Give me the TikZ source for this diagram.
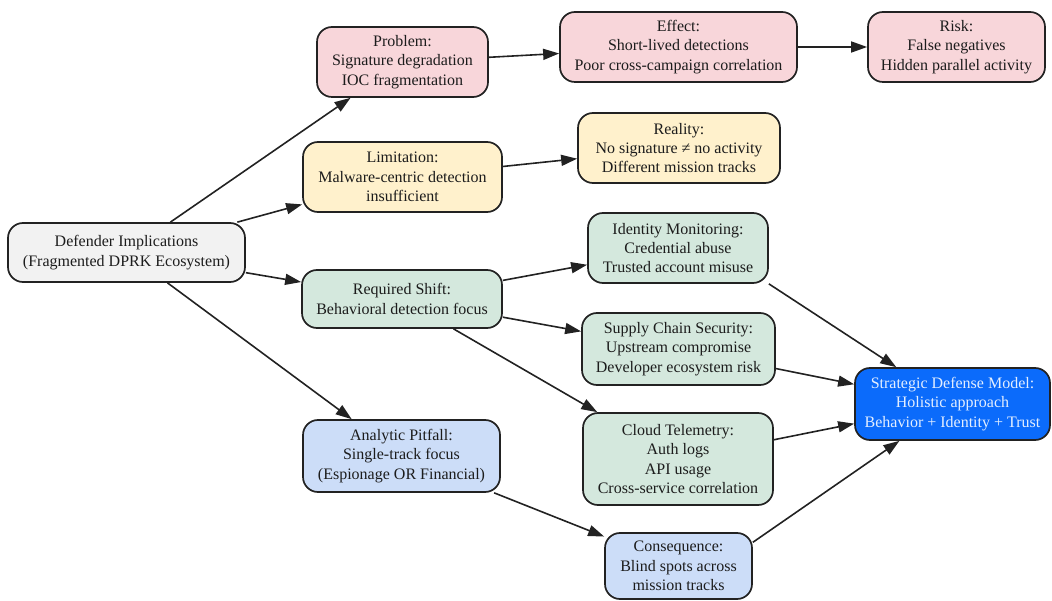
\documentclass[tikz,border=0pt]{standalone}
\usepackage{fontspec}
\setmainfont{Liberation Serif}
\usetikzlibrary{arrows.meta,calc}
\definecolor{edgec}{HTML}{222222}
\definecolor{txt}{HTML}{1C1C1C}
\definecolor{grayf}{HTML}{F2F2F2}
\definecolor{pinkf}{HTML}{F8D6DA}
\definecolor{yelf}{HTML}{FFF1CC}
\definecolor{grnf}{HTML}{D4E8DD}
\definecolor{bluef}{HTML}{CCDDF8}
\definecolor{stratf}{HTML}{0B6BFB}
\definecolor{stratt}{HTML}{E3EEFF}
\begin{document}
\begin{tikzpicture}[x=1pt,y=-1pt,
  box/.style={draw=edgec, line width=1.7pt, rounded corners=15pt, align=center,
    inner sep=0pt, text=txt, font=\fontsize{16}{19.3}\selectfont},
  arr/.style={-{Triangle[length=16pt,width=11pt]}, line width=1.6pt, draw=edgec}]
\useasboundingbox (0,0) rectangle (1052,601);
\node[box, fill=grayf, minimum width=237pt, minimum height=59pt] (def) at (126.5,252.5) {Defender Implications\\(Fragmented DPRK Ecosystem)};
\node[box, fill=pinkf, minimum width=171pt, minimum height=70pt] (prob) at (402.5,62) {Problem:\\Signature degradation\\IOC fragmentation};
\node[box, fill=pinkf, minimum width=237pt, minimum height=70pt] (eff) at (678.5,47) {Effect:\\Short-lived detections\\Poor cross-campaign correlation};
\node[box, fill=pinkf, minimum width=177pt, minimum height=70pt] (risk) at (956.5,47) {Risk:\\False negatives\\Hidden parallel activity};
\node[box, fill=yelf, minimum width=199pt, minimum height=70pt] (lim) at (402.5,177) {Limitation:\\Malware-centric detection\\insufficient};
\node[box, fill=yelf, minimum width=202pt, minimum height=70pt] (real) at (679,148) {Reality:\\No signature ≠ no activity\\Different mission tracks};
\node[box, fill=grnf, minimum width=180pt, minimum height=70pt] (ident) at (678,248) {Identity Monitoring:\\Credential abuse\\Trusted account misuse};
\node[box, fill=grnf, minimum width=200pt, minimum height=58pt] (req) at (402,299) {Required Shift:\\Behavioral detection focus};
\node[box, fill=grnf, minimum width=193pt, minimum height=72pt] (sup) at (678.5,349) {Supply Chain Security:\\Upstream compromise\\Developer ecosystem risk};
\node[box, fill=stratf, text=stratt, minimum width=195pt, minimum height=72pt] (strat) at (952.5,404) {Strategic Defense Model:\\Holistic approach\\Behavior + Identity + Trust};
\node[box, fill=bluef, minimum width=197pt, minimum height=72pt] (anal) at (401.5,456) {Analytic Pitfall:\\Single-track focus\\(Espionage OR Financial)};
\node[box, fill=grnf, minimum width=190pt, minimum height=92pt] (cloud) at (678,459) {Cloud Telemetry:\\Auth logs\\API usage\\Cross-service correlation};
\node[box, fill=bluef, minimum width=147pt, minimum height=66pt] (cons) at (678.5,566) {Consequence:\\Blind spots across\\mission tracks};
\draw[arr] (def) -- (prob);
\draw[arr] (def) -- (lim);
\draw[arr] (def) -- (req);
\draw[arr] (def) -- (anal);
\draw[arr] (prob) -- (eff);
\draw[arr] (eff) -- (risk);
\draw[arr] (lim) -- (real);
\draw[arr] (req) -- (ident);
\draw[arr] (req) -- (sup);
\draw[arr] (req) -- (cloud);
\draw[arr] (anal) -- (cons);
\draw[arr] (ident.south east) -- (strat);
\draw[arr] (sup) -- (strat);
\draw[arr] (cloud) -- (strat);
\coordinate (consout) at ($(cons.east)!0.7!(cons.north east)$);
\draw[arr] (consout) -- (strat);
\end{tikzpicture}
\end{document}
